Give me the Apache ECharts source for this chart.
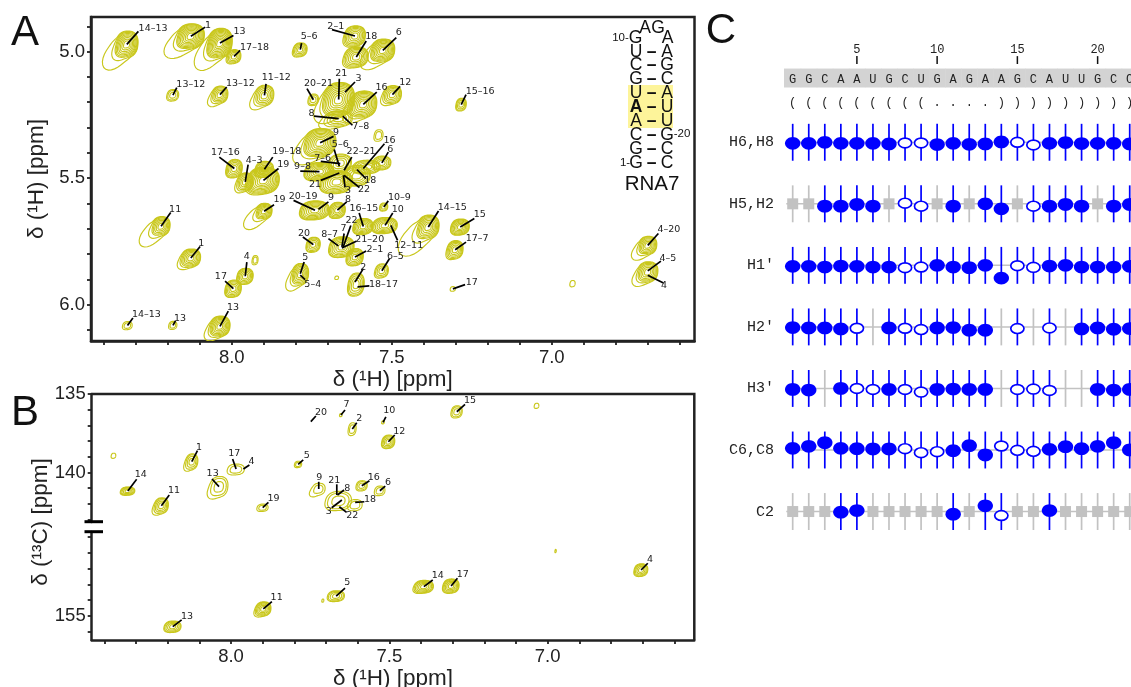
<!DOCTYPE html>
<html><head><meta charset="utf-8">
<style>html,body{margin:0;padding:0;background:#fff}#c{width:1131px;height:687px}</style>
<script src="https://cdn.jsdelivr.net/npm/echarts@6/dist/echarts.min.js"></script>
</head><body><div id="c"></div>
<script>
// Contour peaks: [1H ppm, other ppm, half-width 1H, half-height, tail, levels]
const peaksA = [
[8.328,4.971,.031,.047,1.3,9],[8.128,4.939,.0375,.044,1.1,10],[8.037,4.966,.034,.052,1.2,11],[7.993,5.019,.019,.024,.1,5],
[7.786,4.992,.019,.024,.1,5],[7.615,4.938,.029,.036,.1,7],[7.611,5.021,.033,.036,.1,7],[7.528,4.995,.033,.04,1,9],
[8.184,5.172,.016,.02,0,3],[8.037,5.170,.022,.03,.6,6],[7.898,5.173,.026,.036,.6,6],[7.745,5.190,.014,.02,0,3],
[7.666,5.189,.044,.06,.6,10],[7.589,5.208,.0375,.047,.6,9],[7.498,5.170,.025,.032,.3,6],[7.283,5.209,.014,.022,0,4],
[7.666,5.265,.038,.028,.5,5],[7.724,5.360,.044,.05,.8,10],[7.541,5.331,.012,.02,0,2],
[7.726,5.474,.04,.032,0,8],[7.661,5.441,.031,.032,0,5],[7.672,5.515,.044,.04,0,8],[7.609,5.490,.0375,.036,0,6],
[7.578,5.456,.0375,.024,0,5],[7.531,5.440,.025,.024,0,5],
[7.992,5.462,.022,.032,0,6],[7.958,5.515,.022,.032,.3,6],[7.898,5.465,.025,.028,0,6],[7.901,5.509,.044,.047,.1,10],
[7.899,5.631,.022,.028,1.8,7],[7.740,5.627,.04,.033,0,8],[7.670,5.627,.022,.028,0,6],[7.525,5.614,.011,.014,0,3],
[7.589,5.691,.027,.028,0,7],[7.521,5.687,.034,.028,0,7],[7.386,5.693,.03,.042,2,8],[7.286,5.693,.025,.028,0,7],
[7.302,5.783,.022,.032,.1,6],[7.309,5.938,.007,.008,0,1],[6.700,5.766,.025,.032,.9,7],[6.700,5.871,.028,.036,.6,7],
[7.531,5.866,.018,.024,.1,4],[7.611,5.920,.022,.04,0,5],[7.615,5.812,.023,.03,0,6],[7.656,5.772,.034,.036,0,7],
[7.745,5.763,.019,.026,0,5],[7.786,5.880,.023,.038,.8,7],[8.221,5.690,.025,.034,1.6,7],[8.128,5.816,.027,.032,.4,7],
[7.958,5.888,.022,.028,0,6],[7.995,5.937,.022,.03,0,6],[8.326,6.083,.013,.014,0,2],[8.184,6.082,.011,.014,0,2],
[8.037,6.086,.028,.036,.6,8],[7.927,5.824,.008,.016,0,2],[7.672,5.894,.005,.006,0,1],[6.935,5.917,.007,.011,0,1]
];
// Assignment labels: [text, peak H, peak V, leader end H, leader end V, label H, label V]
const labelsA = [
['14–13',8.328,4.971,8.292,4.920,8.246,4.909],['1',8.128,4.939,8.083,4.903,8.074,4.896],['13',8.037,4.966,7.995,4.936,7.976,4.922],
['17–18',7.993,5.019,7.974,4.995,7.929,4.982],['5–6',7.786,4.992,7.782,4.966,7.758,4.942],['2–1',7.615,4.938,7.687,4.913,7.675,4.899],
['18',7.611,5.021,7.580,4.958,7.564,4.939],['6',7.528,4.995,7.486,4.945,7.478,4.926],['13–12',8.184,5.172,8.172,5.142,8.128,5.130],
['13–12',8.037,5.170,8.016,5.140,7.973,5.127],['11–12',7.898,5.173,7.893,5.127,7.861,5.104],['20–21',7.745,5.190,7.765,5.146,7.729,5.127],
['21',7.666,5.189,7.664,5.107,7.658,5.085],['3',7.646,5.160,7.615,5.120,7.604,5.107],['16',7.589,5.208,7.547,5.160,7.532,5.142],
['12',7.498,5.170,7.474,5.137,7.458,5.123],['15–16',7.283,5.209,7.268,5.170,7.224,5.156],['8',7.666,5.265,7.743,5.255,7.751,5.243],
['7–8',7.653,5.255,7.623,5.291,7.597,5.295],['9',7.724,5.360,7.682,5.335,7.674,5.320],['17–16',7.992,5.462,8.039,5.417,8.020,5.399],
['4–3',7.958,5.515,7.949,5.447,7.930,5.430],['19–18',7.898,5.465,7.872,5.417,7.828,5.395],['19',7.901,5.509,7.854,5.462,7.839,5.447],
['5–6',7.664,5.453,7.680,5.387,7.661,5.366],['22–21',7.649,5.469,7.625,5.417,7.596,5.395],['7–6',7.661,5.443,7.722,5.434,7.716,5.421],
['9–8',7.726,5.474,7.786,5.472,7.779,5.453],['16',7.589,5.462,7.523,5.364,7.507,5.351],['6',7.531,5.440,7.511,5.397,7.505,5.387],
['21',7.664,5.480,7.722,5.509,7.740,5.525],['18',7.609,5.466,7.581,5.502,7.567,5.510],['22',7.649,5.489,7.601,5.537,7.587,5.545],
['3',7.651,5.489,7.646,5.537,7.637,5.548],['19',7.899,5.631,7.868,5.605,7.851,5.585],['20–19',7.740,5.627,7.807,5.588,7.777,5.571],
['9',7.729,5.623,7.698,5.594,7.690,5.576],['8',7.670,5.627,7.641,5.594,7.637,5.584],['10–9',7.525,5.614,7.511,5.590,7.476,5.577],
['16–15',7.589,5.691,7.602,5.638,7.587,5.621],['10',7.521,5.687,7.497,5.638,7.481,5.623],['12–11',7.503,5.687,7.482,5.746,7.447,5.767],
['14–15',7.386,5.693,7.354,5.630,7.311,5.617],['15',7.286,5.693,7.242,5.660,7.225,5.644],['17–7',7.302,5.783,7.268,5.753,7.233,5.739],
['17',7.309,5.938,7.271,5.921,7.250,5.913],['4–20',6.700,5.766,6.667,5.719,6.634,5.704],['4–5',6.700,5.867,6.659,5.828,6.637,5.817],
['4',6.700,5.884,6.651,5.915,6.649,5.923],['6–5',7.531,5.866,7.507,5.818,7.489,5.810],['2',7.615,5.911,7.589,5.858,7.589,5.853],
['18–17',7.607,5.930,7.570,5.926,7.526,5.920],['2–1',7.615,5.812,7.580,5.788,7.553,5.783],['21–20',7.656,5.776,7.611,5.750,7.569,5.741],
['22',7.653,5.776,7.628,5.687,7.626,5.667],['7',7.656,5.772,7.649,5.719,7.651,5.701],['8–7',7.667,5.768,7.698,5.739,7.694,5.725],
['20',7.745,5.763,7.778,5.733,7.774,5.719],['5',7.786,5.878,7.774,5.832,7.770,5.814],['5–4',7.786,5.884,7.771,5.901,7.747,5.921],
['11',8.221,5.690,8.191,5.636,8.177,5.624],['1',8.128,5.816,8.099,5.770,8.095,5.759],['4',7.958,5.888,7.953,5.832,7.953,5.812],
['17',7.995,5.937,8.021,5.907,8.034,5.888],['14–13',8.326,6.083,8.309,6.053,8.267,6.040],['13',8.184,6.082,8.176,6.065,8.162,6.054],
['13',8.037,6.086,8.011,6.026,7.996,6.013]
];
const peaksBTop = [
[8.124,139.31,.019,.5,.3,4],[8.326,141.18,.022,.26,0,5],[8.220,142.11,.022,.5,.3,5],[7.984,139.8,.026,.34,0,2],[8.038,140.90,.028,.65,.3,3],
[7.900,142.24,.017,.23,0,2],[7.788,139.48,.011,.2,0,2],[7.723,141.05,.02,.37,.5,2],[7.653,136.34,.004,.1,0,1],[7.617,137.23,.012,.4,0,2],
[7.66,141.8,.04,.6,0,3],[7.608,142.07,.022,.35,0,2],[7.587,140.84,.017,.32,0,3],[7.530,141.16,.016,.3,0,2],[7.287,136.13,.017,.38,0,3],
[7.520,136.80,.004,.1,0,1],[7.503,138.04,.02,.42,0,5],[8.371,138.93,.007,.16,0,1],[7.035,135.75,.007,.16,0,1]
];
const peaksBBottom = [
[7.668,153.75,.026,.34,0,4],[7.898,154.57,.024,.45,.2,6],[8.184,155.70,.026,.36,0,5],[7.391,153.15,.03,.4,.1,6],[7.305,153.11,.025,.45,0,6],
[6.705,152.09,.021,.4,0,5],[7.710,154.04,.003,.1,0,1],[6.975,150.88,.002,.1,0,1]
];
const labelsBTop = [
['1',8.124,139.31,8.106,138.61,8.101,138.38],['14',8.326,141.18,8.298,140.43,8.285,140.14],['11',8.220,142.11,8.195,141.43,8.180,141.16],
['17',7.984,139.78,7.995,139.14,7.990,138.80],['4',7.961,139.78,7.942,139.52,7.935,139.29],['13',8.038,140.90,8.060,140.41,8.058,140.08],
['19',7.900,142.24,7.882,141.90,7.866,141.64],['5',7.788,139.48,7.772,139.20,7.761,138.90],['9',7.723,141.05,7.723,140.59,7.721,140.29],
['20',7.748,136.76,7.732,136.40,7.716,136.15],['7',7.653,136.34,7.640,136.02,7.635,135.70],['2',7.617,137.23,7.603,136.83,7.595,136.59],
['21',7.666,141.43,7.666,140.75,7.674,140.48],['8',7.664,141.43,7.643,141.11,7.633,140.99],['3',7.650,141.75,7.682,142.24,7.691,142.47],
['22',7.658,142.18,7.635,142.54,7.617,142.75],['18',7.608,141.90,7.579,141.86,7.561,141.71],['16',7.587,140.84,7.563,140.52,7.549,140.31],
['6',7.530,141.16,7.513,140.86,7.504,140.62],['15',7.287,136.13,7.261,135.66,7.245,135.43],['10',7.520,136.80,7.511,136.45,7.500,136.06],
['12',7.503,138.04,7.483,137.61,7.469,137.38]
];
const labelsBBottom = [
['5',7.668,153.75,7.640,153.25,7.633,152.92],['11',7.898,154.57,7.871,154.11,7.856,153.87],['13',8.184,155.70,8.156,155.27,8.139,155.06],
['14',7.391,153.15,7.363,152.73,7.347,152.43],['17',7.305,153.11,7.285,152.62,7.268,152.36],['4',6.705,152.09,6.684,151.66,6.677,151.43]
];
// Panel C
const sequence = 'GGCAAUGCUGAGAAGCAUUGCC'.split('');
const dotBracket = '(((((((((....)))))))))'.split('');
const residueTicks = [5,10,15,20];
const rowNames = ['H6,H8','H5,H2',"H1'","H2'","H3'",'C6,C8','C2'];
const rowStates = [
'FFFFFFFOOFFFFFOOFFFFFF',
'SSFFFFSOOSFSFFSOFFFSFF',
'FFFFFFFOOFFFFFOOFFFFFF',
'FFFFONFOOFFFFNONONFFFF',
'FFNFOOFOOFFFFNOOONNFFF',
'FFFFFFFOOOFFFOOOFFFFFF',
'SSSFFSSSSSFSFOSSFSSSSS'];
const rowShifts = [
[3,3,0,3,3,3,5,2,2,7,3,6,5,-1,0,8,3,1,4,3,3,5],
[0,0,7,7,2,7,0,-2,7,0,7,0,0,15,0,7,7,2,7,0,7,2],
[3,3,5,2,3,5,5,7,5,0,5,7,0,38,1,6,2,0,5,5,5,3],
[2,3,3,6,4,0,3,4,8,3,2,10,10,0,5,0,3,0,6,3,7,5],
[3,5,0,0,0,3,3,3,11,3,2,3,3,0,3,2,6,0,0,3,5,3],
[-5,-11,-22,-5,-4,-3,-3,-4,8,5,2,-13,15,-12,1,4,-2,-10,-4,-11,-22,0],
[0,0,0,2,-3,0,0,0,0,0,8,0,-17,12,0,0,-3,0,0,0,0,0]];
// Inset hairpin
const stemLeft = ['U','C','G','U','A','A','C','G','G'];
const stemRight = ['A','G','C','A','U','U','G','C','C'];
const ticksAx = [8.4,8.3,8.2,8.1,8,7.9,7.8,7.7,7.6,7.5,7.4,7.3,7.2,7.1,7,6.9,6.8,6.7,6.6];
const ticksAy = [4.9,5,5.1,5.2,5.3,5.4,5.5,5.6,5.7,5.8,5.9,6,6.1];
const labelsX = [8,7.5,7];
const labelsAy = [5,5.5,6];
const ticksBTop = [135,136,137,138,139,140,141,142,143];
const ticksBBottom = [150,151,152,153,154,155,156];

const OLIVE='#c9c71c', INK='#222', BLUE='#0000ff', GREY='#c2c2c2';
const SHIFT_UNIT=184.6, STEM=0.3;

function ring(c,a,b,s,t,k){
  const pts=[], tk=.16+t*(k===0?1:k===1?.3:.08);
  for(let i=0;i<60;i++){
    const th=i/60*Math.PI*2, cs=Math.cos(th), sn=Math.sin(th);
    const f=Math.max(0,cs*-.75+sn*.66), r=1+tk*f*f*f*f;
    const ux=Math.sign(cs)*Math.pow(Math.abs(cs),.85), uy=Math.sign(sn)*Math.pow(Math.abs(sn),.85);
    const dx=a*ux*r*s, dy=b*uy*r*s;
    pts.push([c[0]+dx-.08*dy,c[1]+dy]);
  }
  return pts;
}
function contourSeries(peaks,xi,yi,grow){
  return {type:'custom',xAxisIndex:xi,yAxisIndex:yi,coordinateSystem:'cartesian2d',clip:true,z:2,silent:true,
    data:peaks,encode:{x:0,y:1},
    renderItem(p,api){
      const d=peaks[p.dataIndex], c=api.coord([d[0],d[1]]), sz=api.size([d[2],d[3]]);
      const a=Math.abs(sz[0])*grow, b=Math.abs(sz[1])*grow, n=d[5], kids=[];
      for(let k=0;k<n;k++){
        const s=n===1?1:1-Math.pow(k/n,1.4)*.88;
        kids.push({type:'polygon',shape:{points:ring(c,a,b,s,d[4],k)},style:{fill:'none',stroke:OLIVE,lineWidth:1.15}});
      }
      return {type:'group',children:kids};
    }};
}
function labelSeries(list,xi,yi){
  return {type:'custom',xAxisIndex:xi,yAxisIndex:yi,coordinateSystem:'cartesian2d',clip:false,z:4,silent:true,
    data:list.map(a=>[a[1],a[2]]),encode:{x:0,y:1},
    renderItem(p,api){
      const a=list[p.dataIndex], s=api.coord([a[1],a[2]]), e=api.coord([a[3],a[4]]), l=api.coord([a[5],a[6]]);
      return {type:'group',children:[
        {type:'line',shape:{x1:s[0],y1:s[1],x2:e[0],y2:e[1]},style:{stroke:'#000',lineWidth:1.7}},
        {type:'text',style:{x:l[0],y:l[1],text:a[0],textAlign:'center',textVerticalAlign:'middle',font:'9.5px "DejaVu Sans"',fill:INK}}
      ]};
    }};
}
const axLine={lineStyle:{color:INK,width:2.5}};
const tick=(vals)=>({show:true,length:4,customValues:vals,lineStyle:{color:INK,width:1.8}});
const lab=(vals,fmt,m)=>({show:true,customValues:vals,formatter:fmt,fontFamily:'"Liberation Sans"',fontSize:18.5,color:INK,margin:m,hideOverlap:false,showMinLabel:true,showMaxLabel:true});
const nameSty={fontFamily:'"Liberation Sans"',fontSize:22.5,color:INK};

const cells=[];
rowNames.forEach((_,r)=>sequence.forEach((_,i)=>cells.push([i+1,r,rowShifts[r][i],rowStates[r][i]])));

// graphics for the inset, panel letters and frame of B
const g=[];
function T(x,y,text,size,extra){g.push({type:'text',x,y,z:20,silent:true,style:Object.assign({text,fill:'#111',font:size+'px "Liberation Sans"',textAlign:'center',textVerticalAlign:'middle'},extra||{})});}
T(25,33,'A',42); T(25,413,'B',42); T(721,31,'C',42);
g.push({type:'text',x:41,y:522,z:20,silent:true,rotation:Math.PI/2,style:{text:'δ (¹³C) [ppm]',fill:INK,font:'22.5px "Liberation Sans"',textAlign:'center',textVerticalAlign:'middle'}});
g.push({type:'rect',z:1,silent:true,shape:{x:628,y:85,width:45,height:43},style:{fill:'#fdf49a'}});
const rowTop=51.7, rowStep=13.9;
stemLeft.forEach((L,i)=>{
  const y=rowTop+i*rowStep;
  T(636,y,L,17.5,i===4?{font:'bold 17.5px "Liberation Sans"'}:null);
  T(651.5,y,'–',17.5,{font:'bold 17.5px "Liberation Sans"'});
  T(667,y,stemRight[i],17.5);
});
T(635.5,38,'G',17.5);T(645,28,'A',17.5);T(658,28,'G',17.5);T(667.5,38,'A',17.5);
T(620.5,38,'10-',11.5);T(682,134,'-20',11.5);T(625,163,'1-',11.5);T(652,184,'RNA7',20.5);
g.push({type:'polyline',z:6,silent:true,shape:{points:[[91.7,394],[694.3,394],[694.3,640]]},style:{fill:'none',stroke:INK,lineWidth:2.5}});
[[521.7],[531.7]].forEach(v=>g.push({type:'line',z:6,silent:true,shape:{x1:84.5,y1:v[0],x2:103,y2:v[0]},style:{stroke:'#000',lineWidth:3}}));

const option={
  animation:false,backgroundColor:'#fff',
  grid:[
    {left:91,top:17,width:603.5,height:324,show:true,borderColor:INK,borderWidth:2.5,backgroundColor:'transparent',outerBoundsMode:'none'},
    {left:91.7,top:394,width:602.6,height:128,outerBoundsMode:'none'},
    {left:91.7,top:532,width:602.6,height:108,outerBoundsMode:'none'},
    {left:784,top:64,width:347,height:466,outerBoundsMode:'none'}
  ],
  xAxis:[
    {gridIndex:0,type:'value',inverse:true,min:6.554,max:8.44,splitLine:{show:false},axisLine:axLine,axisTick:tick(ticksAx),axisLabel:lab(labelsX,v=>v.toFixed(1),7),
     name:'δ (¹H) [ppm]',nameLocation:'middle',nameGap:17,nameTextStyle:nameSty},
    {gridIndex:1,type:'value',inverse:true,min:6.537,max:8.44,splitLine:{show:false},axisLine:{show:false},axisTick:{show:false},axisLabel:{show:false}},
    {gridIndex:2,type:'value',inverse:true,min:6.537,max:8.44,splitLine:{show:false},axisLine:axLine,axisTick:tick(ticksAx),axisLabel:lab(labelsX,v=>v.toFixed(1),7),
     name:'δ (¹H) [ppm]',nameLocation:'middle',nameGap:25,nameTextStyle:nameSty},
    {gridIndex:3,type:'value',position:'top',min:.458,max:22.08,splitLine:{show:false},axisLine:{show:false},axisTick:{show:false},
     axisLabel:{show:true,customValues:residueTicks,margin:8,fontFamily:'"Liberation Mono"',fontSize:12,color:INK}}
  ],
  yAxis:[
    {gridIndex:0,type:'value',inverse:true,min:4.863,max:6.144,splitLine:{show:false},axisLine:axLine,axisTick:tick(ticksAy),axisLabel:lab(labelsAy,v=>v.toFixed(1),6),
     name:'δ (¹H) [ppm]',nameLocation:'middle',nameGap:28,nameTextStyle:nameSty},
    {gridIndex:1,type:'value',inverse:true,min:135,max:143.15,splitLine:{show:false},axisLine:axLine,axisTick:tick(ticksBTop),axisLabel:lab([135,140],v=>String(v),6)},
    {gridIndex:2,type:'value',inverse:true,min:149.67,max:156.55,splitLine:{show:false},axisLine:axLine,axisTick:tick(ticksBBottom),axisLabel:lab([155],v=>String(v),6)},
    {gridIndex:3,type:'value',inverse:true,min:-1.272,max:6.3,splitLine:{show:false},axisLine:{show:false},axisTick:{show:false},
     axisLabel:{show:true,customValues:[0,1,2,3,4,5,6],margin:10,formatter:v=>rowNames[v]||'',fontFamily:'"Liberation Mono"',fontSize:15,color:INK}}
  ],
  series:[
    contourSeries(peaksA,0,0,1.12),labelSeries(labelsA,0,0),
    contourSeries(peaksBTop,1,1,1),labelSeries(labelsBTop,1,1),
    contourSeries(peaksBBottom,2,2,1),labelSeries(labelsBBottom,2,2),
    // sequence band, residue ticks and text
    {type:'custom',xAxisIndex:3,yAxisIndex:3,clip:false,silent:true,z:2,data:sequence.map((_,i)=>[i+1,-1]),encode:{x:0,y:1},
     renderItem(p,api){
       const i=p.dataIndex, a=api.coord([i+.5,-1.198]), b=api.coord([i+1.5,-.89]), left=i===0?api.coord([.458,0])[0]:a[0];
       const t=api.coord([i+1,-1.012]), k=api.coord([i+1,-.634]);
       const kids=[
         {type:'rect',shape:{x:left,y:a[1],width:b[0]-left+.5,height:b[1]-a[1]},style:{fill:'#d3d3d3'},z2:0},
         {type:'text',z2:2,style:{x:t[0],y:t[1],text:sequence[i],textAlign:'center',textVerticalAlign:'middle',font:'12px "Liberation Mono"',fill:INK}},
         {type:'text',z2:2,style:{x:k[0],y:k[1],text:dotBracket[i],textAlign:'center',textVerticalAlign:'middle',font:'12px "Liberation Mono"',fill:INK}}
       ];
       if(residueTicks.includes(i+1)){
         const t0=api.coord([i+1,-1.272]), t1=api.coord([i+1,-1.4]);
         kids.push({type:'line',shape:{x1:t0[0],y1:t0[1],x2:t1[0],y2:t1[1]},style:{stroke:'#111',lineWidth:1.5}});
       }
       return {type:'group',children:kids};
     }},
    // row baselines
    {type:'custom',xAxisIndex:3,yAxisIndex:3,clip:false,silent:true,z:2,data:rowNames.map((_,r)=>[1,r]),encode:{x:0,y:1},
     renderItem(p,api){
       const a=api.coord([.6,p.dataIndex]), b=api.coord([22.08,p.dataIndex]);
       return {type:'line',shape:{x1:a[0],y1:a[1],x2:b[0],y2:b[1]},style:{stroke:GREY,lineWidth:1.5}};
     }},
    // residue cells
    {type:'custom',xAxisIndex:3,yAxisIndex:3,clip:false,silent:true,z:3,data:cells.map(c=>[c[0],c[1]]),encode:{x:0,y:1},
     renderItem(p,api){
       const [res,row,sh,st]=cells[p.dataIndex];
       const top=api.coord([res,row-STEM]), bot=api.coord([res,row+STEM]), c=api.coord([res,row+sh/SHIFT_UNIT]);
       const blue=st==='F'||st==='O';
       const kids=[{type:'line',shape:{x1:top[0],y1:top[1],x2:bot[0],y2:bot[1]},style:{stroke:blue?BLUE:GREY,lineWidth:1.7}}];
       if(st==='F') kids.push({type:'ellipse',shape:{cx:c[0],cy:c[1],rx:7.7,ry:6.4},style:{fill:BLUE}});
       if(st==='O') kids.push({type:'ellipse',shape:{cx:c[0],cy:c[1],rx:6.6,ry:4.9},style:{fill:'#fff',stroke:BLUE,lineWidth:1.7}});
       if(st==='S') kids.push({type:'rect',shape:{x:c[0]-5.5,y:c[1]-5.5,width:11,height:11},style:{fill:GREY}});
       return {type:'group',children:kids};
     }}
  ],
  graphic:g
};
const chart=echarts.init(document.getElementById('c'),null,{renderer:'canvas'});
chart.setOption(option);
</script></body></html>
